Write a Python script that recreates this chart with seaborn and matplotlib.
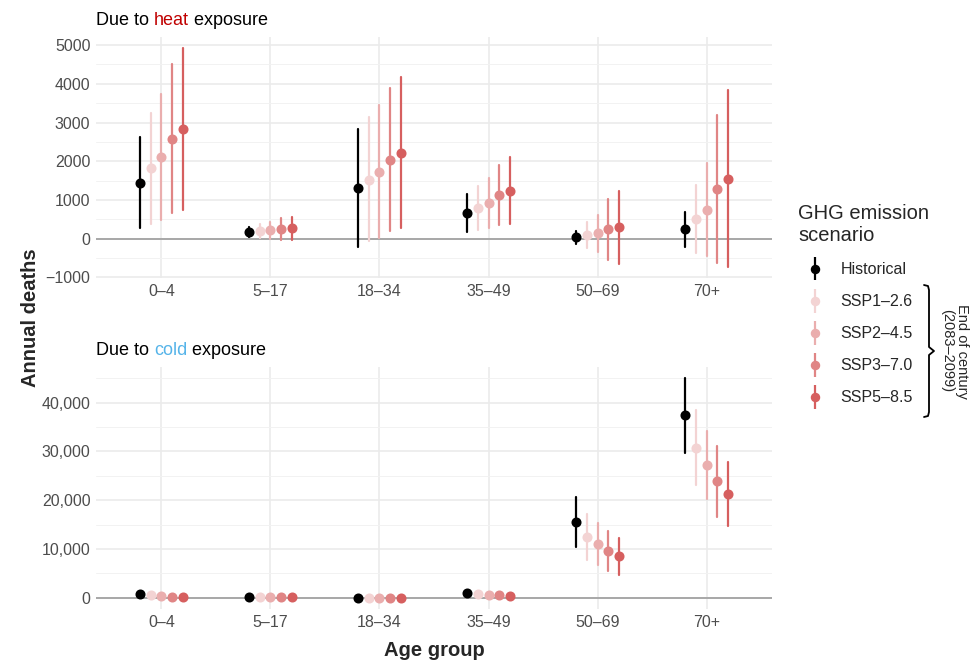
import numpy as np
import pandas as pd
import matplotlib
matplotlib.use("Agg")
import matplotlib.pyplot as plt
import seaborn as sns
from matplotlib.lines import Line2D
from matplotlib.collections import LineCollection
from matplotlib.container import ErrorbarContainer
from matplotlib.legend_handler import HandlerErrorbar
from matplotlib.ticker import FuncFormatter, MultipleLocator

# 年龄组与情景
AGES = ["0–4", "5–17", "18–34", "35–49", "50–69", "70+"]
SCENARIOS = ["Historical", "SSP1–2.6", "SSP2–4.5", "SSP3–7.0", "SSP5–8.5"]
COLORS = ["#000000", "#F3D3D3", "#EAAEAE", "#E08585", "#D65F5F"]

# 高温暴露: 每行一个情景, 每列一个年龄组
HEAT_MID = [
    [1450, 163, 1306, 678, 34, 241],
    [1822, 198, 1521, 799, 94, 507],
    [2121, 215, 1735, 936, 137, 747],
    [2585, 250, 2036, 1142, 250, 1280],
    [2843, 266, 2216, 1245, 292, 1538],
]
HEAT_LO = [
    [266, 44, -215, 172, -137, -206],
    [387, 9, -60, 232, -249, -369],
    [490, -9, 17, 275, -352, -455],
    [678, -26, 189, 344, -541, -627],
    [730, -43, 266, 378, -653, -730],
]
HEAT_HI = [
    [2637, 301, 2843, 1160, 206, 696],
    [3255, 387, 3136, 1374, 438, 1383],
    [3737, 438, 3445, 1572, 619, 1950],
    [4502, 524, 3892, 1915, 1031, 3196],
    [4931, 558, 4167, 2121, 1245, 3832],
]

# 低温暴露
COLD_MID = [
    [820, 200, 20, 1030, 15450, 37470],
    [550, 150, 10, 820, 12440, 30770],
    [410, 150, 10, 680, 11080, 27280],
    [270, 120, 5, 550, 9570, 23860],
    [140, 100, 5, 340, 8480, 21260],
]
COLD_LO = [
    [700, 160, 0, 900, 10320, 29680],
    [460, 110, 0, 700, 7800, 23040],
    [330, 110, 0, 570, 6770, 20310],
    [200, 80, 0, 440, 5470, 16620],
    [90, 60, 0, 250, 4720, 14630],
]
COLD_HI = [
    [950, 240, 40, 1160, 20650, 45060],
    [640, 190, 30, 950, 17090, 38500],
    [500, 190, 30, 800, 15250, 34260],
    [350, 160, 20, 660, 13670, 31110],
    [200, 140, 20, 440, 12240, 27750],
]


def long_frame(mid, lo, hi):
    # 每组三行 (下限, 中值, 上限): 中位数=中值, 误差条=最小到最大
    rows = []
    for s, scen in enumerate(SCENARIOS):
        for a, age in enumerate(AGES):
            for v in (lo[s][a], mid[s][a], hi[s][a]):
                rows.append({"age": age, "scenario": scen, "deaths": v})
    return pd.DataFrame(rows)


sns.set_theme(style="white")
plt.rcParams["font.family"] = ["Liberation Sans", "DejaVu Sans"]
plt.rcParams["axes.unicode_minus"] = True

W, H = 971, 661
fig = plt.figure(figsize=(W / 100, H / 100), dpi=100)


def fx(px):
    return px / W


def fy(py):
    return 1 - py / H


ax_heat = fig.add_axes([fx(96), fy(278), fx(772 - 96), (278 - 37) / H])
ax_cold = fig.add_axes([fx(96), fy(609), fx(772 - 96), (609 - 367) / H])

panels = [
    (ax_heat, long_frame(HEAT_MID, HEAT_LO, HEAT_HI), (-1013, 5210), 1000, 500,
     lambda v, p: f"{int(v)}".replace("-", "\u2212"), "heat", "#C00000"),
    (ax_cold, long_frame(COLD_MID, COLD_LO, COLD_HI), (-2285, 47315), 10000, 5000,
     lambda v, p: f"{int(v):,}", "cold", "#56B4E9"),
]

MS = 5.2
for ax, df, ylim, major, minor, fmt, word, wcol in panels:
    ax.axhline(0, color="#A8A8A8", lw=1.4, zorder=1)
    sns.pointplot(data=df, x="age", y="deaths", hue="scenario",
                  order=AGES, hue_order=SCENARIOS, palette=COLORS,
                  estimator="median", errorbar=lambda v: (v.min(), v.max()),
                  dodge=0.4, linestyle="none", markers="o", markersize=MS,
                  err_kws={"linewidth": 1.6}, legend=False, ax=ax)
    ax.set_xlim(-0.6, 5.6)
    ax.set_ylim(*ylim)
    ax.yaxis.set_major_locator(MultipleLocator(major))
    ax.yaxis.set_minor_locator(MultipleLocator(minor))
    ax.yaxis.set_major_formatter(FuncFormatter(fmt))
    ax.grid(True, which="major", color="#EBEBEB", lw=1.2, zorder=0)
    ax.grid(True, which="minor", axis="y", color="#F2F2F2", lw=0.7, zorder=0)
    ax.set_axisbelow(True)
    for sp in ax.spines.values():
        sp.set_visible(False)
    ax.set_xlabel("")
    ax.set_ylabel("")
    ax.tick_params(axis="both", which="both", length=0, labelsize=11.5,
                   labelcolor="#4D4D4D", pad=4)

    # 标题, 中间单词着色
    t1 = ax.text(0, 1.035, "Due to ", transform=ax.transAxes, fontsize=13,
                 ha="left", va="bottom", color="black")
    t2 = ax.annotate(word, xy=(1, 0), xycoords=t1, fontsize=13,
                     ha="left", va="bottom", color=wcol)
    ax.annotate(" exposure", xy=(1, 0), xycoords=t2, fontsize=13,
                ha="left", va="bottom", color="black")

fig.text(fx(30), fy(318), "Annual deaths", rotation=90, ha="center", va="center",
         fontsize=14.5, fontweight="bold")
fig.text(fx(434), fy(651), "Age group", ha="center", va="center",
         fontsize=14.5, fontweight="bold")

# 图例: 点+竖线
handles = []
for c in COLORS:
    pl = Line2D([], [], marker="o", linestyle="none", color=c, markersize=MS + 0.6)
    bl = LineCollection([], colors=c, linewidths=1.6)
    handles.append(ErrorbarContainer((pl, (), (bl,)), has_xerr=False, has_yerr=True))
leg = fig.legend(handles, SCENARIOS, title="GHG emission\nscenario",
                 loc="upper left", bbox_to_anchor=(fx(798), fy(204)),
                 frameon=False, fontsize=11.5, title_fontsize=14.5,
                 borderaxespad=0, borderpad=0, handlelength=2.1,
                 handletextpad=0.55, labelspacing=1.07, alignment="left",
                 handler_map={ErrorbarContainer: HandlerErrorbar(yerr_size=0.75)})

# 右侧大括号与注释
bx, top, bot = 929, 285, 417
mid = (top + bot) / 2
brace_x = [bx - 5, bx - 1, bx, bx, bx + 5, bx, bx, bx - 1, bx - 5]
brace_y = [top, top + 1, top + 5, mid - 4, mid, mid + 4, bot - 5, bot - 1, bot]
fig.add_artist(Line2D([fx(v) for v in brace_x], [fy(v) for v in brace_y],
                      color="black", lw=1.3, transform=fig.transFigure))
fig.text(fx(962), fy(mid), "End of century", rotation=270, ha="center",
         va="center", fontsize=10.5)
fig.text(fx(947), fy(mid), "(2083–2099)", rotation=270, ha="center",
         va="center", fontsize=10.5)

fig.savefig("out.png", dpi=100)
